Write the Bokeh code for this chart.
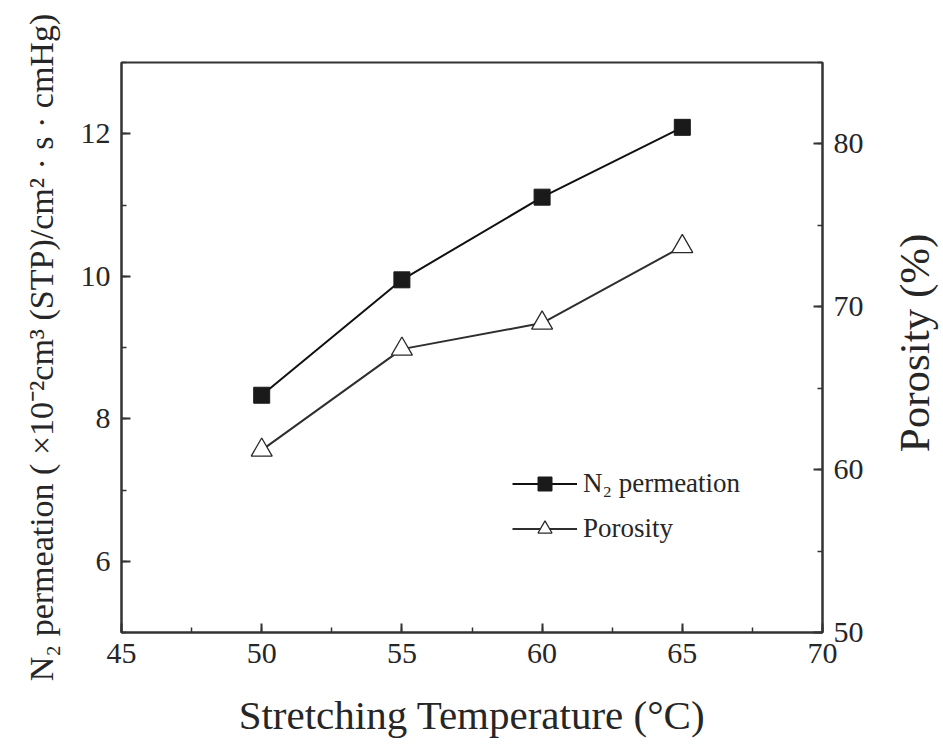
import math
from bokeh.plotting import figure
from bokeh.layouts import row
from bokeh.models import Range1d, LinearAxis, SingleIntervalTicker, Legend, LegendItem
from bokeh.core.properties import value
from bokeh.embed import file_html
from bokeh.resources import INLINE

# Stretching temperature (°C)
temperature = [50, 55, 60, 65]
# N2 permeation (×10^-2 cm3(STP)/cm2·s·cmHg)
n2_permeation = [8.33, 9.95, 11.11, 12.09]
# Porosity (%)
porosity = [61.2, 67.4, 69.0, 73.7]

FONT = "Liberation Serif"
TEXT = "#262626"
AXIS = "#333333"

p = figure(
    width=880, height=750,
    x_range=Range1d(45, 70), y_range=Range1d(5, 13),
    output_backend="svg", toolbar_location=None,
    min_border_left=121, min_border_right=58,
    min_border_top=62, min_border_bottom=118,
    x_axis_label="Stretching Temperature (\u00b0C)",
    y_axis_label="N\u2082 permeation ( \u00d710\u207b\u00b2cm\u00b3 (STP)/cm\u00b2 \u00b7 s \u00b7 cmHg)",
)
p.extra_y_ranges = {"por": Range1d(50, 85)}
p.grid.visible = False
p.outline_line_color = AXIS
p.outline_line_width = 2
p.background_fill_color = "white"
p.border_fill_color = "white"

p.xaxis.ticker = SingleIntervalTicker(interval=5, num_minor_ticks=2)
p.yaxis.ticker = SingleIntervalTicker(interval=2, num_minor_ticks=2)

right = LinearAxis(y_range_name="por",
                   ticker=SingleIntervalTicker(interval=10, num_minor_ticks=2))
p.add_layout(right, "right")

for ax in p.axis:
    ax.axis_line_color = AXIS
    ax.axis_line_width = 2
    ax.major_tick_line_color = AXIS
    ax.major_tick_line_width = 2
    ax.major_tick_in = 9
    ax.major_tick_out = 0
    ax.minor_tick_line_color = AXIS
    ax.minor_tick_line_width = 1.5
    ax.minor_tick_in = 5
    ax.minor_tick_out = 0
    ax.major_label_text_font = FONT
    ax.major_label_text_font_size = "30px"
    ax.major_label_text_color = TEXT
    ax.major_label_standoff = 11
    ax.axis_label_text_font = FONT
    ax.axis_label_text_font_style = "normal"
    ax.axis_label_text_color = TEXT

p.xaxis.axis_label_text_font_size = "41px"
p.xaxis.axis_label_standoff = 26
p.yaxis[0].axis_label_text_font_size = "34px"
p.yaxis[0].axis_label_standoff = 18

# N2 permeation series (left axis)
l1 = p.line(temperature, n2_permeation, line_color="#111111", line_width=2)
s1 = p.scatter(temperature, n2_permeation, marker="square", size=16,
               fill_color="#1a1a1a", line_color="#1a1a1a")

# Porosity series (right axis)
l2 = p.line(temperature, porosity, y_range_name="por", line_color="#2e2e2e", line_width=2)
s2 = p.scatter(temperature, porosity, y_range_name="por", marker="triangle", size=21,
               fill_color="white", line_color="#2a2a2a", line_width=1.3)

legend = Legend(
    items=[LegendItem(label="N\u2082 permeation", renderers=[l1, s1]),
           LegendItem(label="Porosity", renderers=[l2, s2])],
    location=(391, 86), orientation="vertical",
    glyph_width=65, glyph_height=35, label_height=35, spacing=10,
    label_standoff=6, padding=0, margin=0,
    border_line_color=None, background_fill_alpha=0,
    label_text_font=FONT, label_text_font_size="27px", label_text_color=TEXT,
)
p.add_layout(legend)

# Narrow strip to the right carrying the right-hand axis title (reads bottom to top)
side = figure(
    width=63, height=750,
    x_range=Range1d(0, 63), y_range=Range1d(0, 750),
    x_axis_location=None, y_axis_location=None,
    output_backend="svg", toolbar_location=None,
    min_border=0, outline_line_color=None,
)
side.xgrid.visible = False
side.ygrid.visible = False
side.background_fill_color = "white"
side.border_fill_color = "white"
side.text(x=[34], y=[381], text=["Porosity (%)"], angle=math.pi / 2,
          text_align="center", text_baseline="middle",
          text_font=value(FONT), text_font_size="43px", text_color=TEXT)

layout = row(p, side, spacing=0)

open("out.html", "w").write(file_html(layout, INLINE))
